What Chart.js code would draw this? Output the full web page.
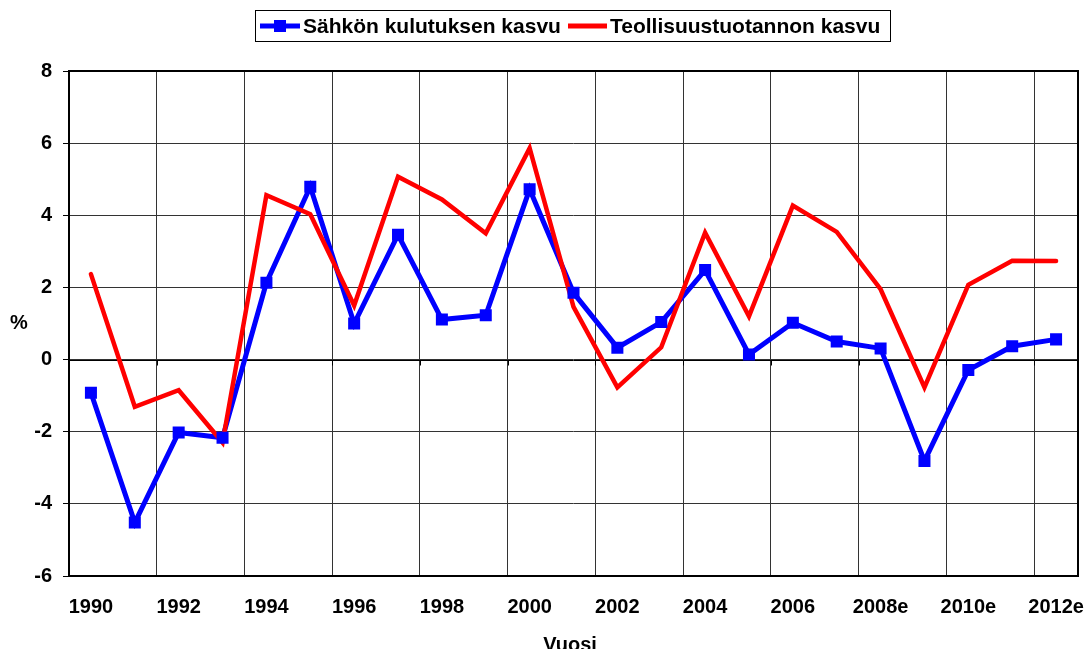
<!DOCTYPE html>
<html><head><meta charset="utf-8">
<script src="https://cdn.jsdelivr.net/npm/chart.js@4/dist/chart.umd.min.js"></script>
<style>html,body{margin:0;padding:0;background:#fff;}#wrap{width:1087px;height:649px;position:relative;}</style>
</head><body><div id="wrap"><canvas id="c" width="1087" height="649"></canvas></div>
<script>
const categories = ['1990','1991','1992','1993','1994','1995','1996','1997','1998','1999','2000','2001','2002','2003','2004','2005','2006','2007','2008e','2009e','2010e','2011e','2012e'];
const electricityGrowth = [-0.92,-4.52,-2.02,-2.17,2.13,4.79,1.0,3.46,1.11,1.23,4.72,1.85,0.33,1.04,2.48,0.14,1.02,0.5,0.31,-2.81,-0.29,0.37,0.56];
const industryGrowth = [2.37,-1.31,-0.85,-2.3,4.56,4.03,1.5,5.07,4.44,3.5,5.86,1.46,-0.77,0.34,3.52,1.2,4.27,3.54,1.95,-0.77,2.07,2.74,2.73];
const seriesNames = ['Sähkön kulutuksen kasvu','Teollisuustuotannon kasvu'];
const yTitle = '%';
const xTitle = 'Vuosi';
const yMin = -6, yMax = 8, yStep = 2;

const FONT = '"Liberation Sans", Arial, sans-serif';
const BLUE = '#0000FF', RED = '#FF0000';

const framePlugin = {
  id: 'frame',
  beforeDatasetsDraw(chart) {
    const ctx = chart.ctx, a = chart.chartArea, ys = chart.scales.y;
    ctx.save();
    const y0 = Math.round(ys.getPixelForValue(0)) + 0.5;
    ctx.strokeStyle = '#000'; ctx.lineWidth = 1;
    ctx.beginPath();
    const n = categories.length;
    for (let i = 0; i <= n; i += 2) {
      const px = Math.round(a.left + (a.right - a.left) * i / n) + 0.5;
      ctx.moveTo(px, y0); ctx.lineTo(px, y0 + 5);
    }
    ctx.moveTo(a.left, y0); ctx.lineTo(a.right, y0);
    ctx.stroke();
    ctx.lineWidth = 2;
    ctx.strokeStyle = '#000';
    ctx.strokeRect(a.left, a.top, a.right - a.left, a.bottom - a.top);
    ctx.restore();
  },
  afterDraw(chart) {
    const ctx = chart.ctx, a = chart.chartArea;
    ctx.save();
    ctx.font = 'bold 20px ' + FONT;
    ctx.fillStyle = '#000';
    ctx.textAlign = 'center'; ctx.textBaseline = 'middle';
    ctx.fillText(yTitle, 19, 323);
    ctx.fillText(xTitle, 570, 645);
    const bx = 255, by = 10, bw = 635, bh = 31;
    ctx.fillStyle = '#fff';
    ctx.fillRect(bx, by, bw, bh);
    ctx.strokeStyle = '#000'; ctx.lineWidth = 1;
    ctx.strokeRect(bx + 0.5, by + 0.5, bw, bh);
    const cy = by + bh / 2 + 0.5;
    ctx.font = 'bold 21px ' + FONT;
    ctx.textAlign = 'left'; ctx.textBaseline = 'middle';
    ctx.strokeStyle = BLUE; ctx.lineWidth = 5;
    ctx.beginPath(); ctx.moveTo(260, cy); ctx.lineTo(300, cy); ctx.stroke();
    ctx.fillStyle = BLUE; ctx.fillRect(274, cy - 6, 12, 12);
    ctx.fillStyle = '#000';
    ctx.fillText(seriesNames[0], 303, cy + 1);
    ctx.strokeStyle = RED; ctx.lineWidth = 5;
    ctx.beginPath(); ctx.moveTo(568, cy); ctx.lineTo(607, cy); ctx.stroke();
    ctx.fillStyle = '#000';
    ctx.fillText(seriesNames[1], 610, cy + 1);
    ctx.restore();
  }
};

new Chart(document.getElementById('c'), {
  type: 'line',
  data: {
    labels: categories,
    datasets: [
      { label: seriesNames[0] + ' markers', data: electricityGrowth, showLine: false, order: 0,
        pointStyle: 'rect', pointRadius: 8.5, pointBackgroundColor: BLUE, pointBorderColor: BLUE, pointBorderWidth: 0, borderColor: BLUE },
      { label: seriesNames[1], data: industryGrowth, order: 1, borderColor: RED, borderWidth: 4.5,
        pointRadius: 0, tension: 0, borderCapStyle: 'round', borderJoinStyle: 'miter', fill: false },
      { label: seriesNames[0], data: electricityGrowth, order: 2, borderColor: BLUE, borderWidth: 5,
        pointRadius: 0, tension: 0, borderJoinStyle: 'miter', fill: false }
    ]
  },
  options: {
    responsive: false, animation: false, maintainAspectRatio: false,
    layout: { padding: { top: 71, right: 9, bottom: 0, left: 0 } },
    plugins: { legend: { display: false }, tooltip: { enabled: false }, title: { display: false } },
    scales: {
      x: {
        type: 'category', offset: true,
        grid: { offset: true, drawTicks: false, lineWidth: 1,
          color: c => (c.index % 2 === 0 ? '#333' : 'rgba(0,0,0,0)') },
        border: { display: false },
        ticks: { autoSkip: false, maxRotation: 0, minRotation: 0, padding: 19, color: '#000',
          font: { family: FONT, size: 20, weight: 'bold' },
          callback: function(v, i) { return i % 2 === 0 ? this.getLabelForValue(v) : ''; } },
        afterFit: s => { s.height = 73; s.paddingLeft = 0; s.paddingRight = 0; }
      },
      y: {
        min: yMin, max: yMax,
        grid: { color: '#333', lineWidth: 1, tickLength: 6, tickColor: '#000' },
        border: { display: false },
        ticks: { stepSize: yStep, padding: 11, color: '#000', font: { family: FONT, size: 20, weight: 'bold' } },
        afterFit: s => { s.width = 69; s.paddingTop = 0; s.paddingBottom = 0; }
      }
    }
  },
  plugins: [framePlugin]
});
</script></body></html>
